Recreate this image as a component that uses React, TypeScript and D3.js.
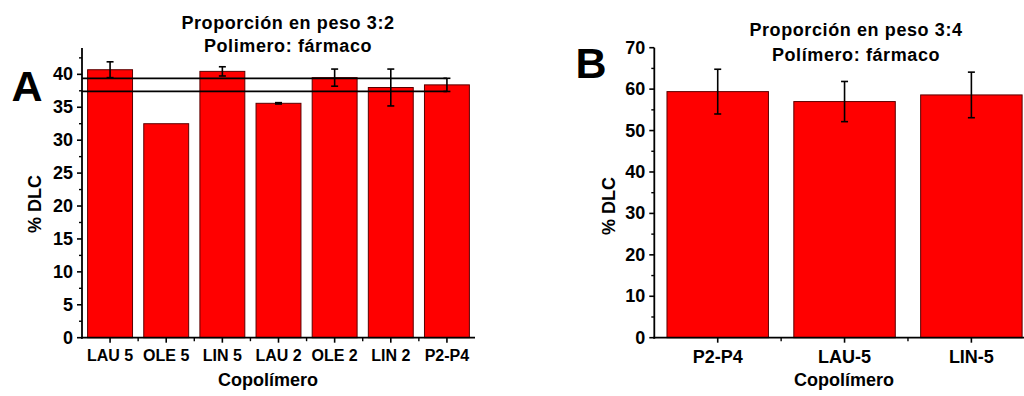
import * as d3 from "d3";

const catsA = ["LAU 5", "OLE 5", "LIN 5", "LAU 2", "OLE 2", "LIN 2", "P2-P4"];
const dlcA = [40.7, 32.5, 40.45, 35.6, 39.5, 38.0, 38.4];
const errA = [1.2, 0, 0.7, 0.1, 1.3, 2.8, 1.0];

const catsB = ["P2-P4", "LAU-5", "LIN-5"];
const dlcB = [59.4, 57.0, 58.6];
const errB = [5.4, 4.85, 5.5];

const ticksA = [0, 5, 10, 15, 20, 25, 30, 35, 40];
const minorA = [2.5, 7.5, 12.5, 17.5, 22.5, 27.5, 32.5, 37.5, 42.5];
const ticksB = [0, 10, 20, 30, 40, 50, 60, 70];
const minorB = [5, 15, 25, 35, 45, 55, 65];

const FONT = "'Liberation Sans', Arial, Helvetica, sans-serif";
const BAR = "#ff0000";
const EDGE = "#5a0000";

type PanelProps = {
  cats: string[];
  vals: number[];
  errs: number[];
  ticks: number[];
  minor: number[];
  yMax: number;
  x0: number;
  x1: number;
  yTop: number;
  yBottom: number;
  title: string[];
  titleX: number;
  titleY: number[];
  letter: string;
  letterX: number;
  letterY: number;
  catSize: number;
  catY: number;
  ylabX: number;
  ylabY: number;
  xlabX: number;
  refLines?: boolean;
};

function Panel(p: PanelProps) {
  const x = d3.scaleBand<string>().domain(p.cats).range([p.x0, p.x1]).paddingInner(0.2).paddingOuter(0.1);
  const y = d3.scaleLinear().domain([0, p.yMax]).range([p.yBottom, p.yTop]);
  const bw = x.bandwidth();
  const step = x.step();
  const last = p.cats.length - 1;
  // reference lines at the last bar's mean ± error
  const refVals = p.refLines ? [p.vals[last] + p.errs[last], p.vals[last] - p.errs[last]] : [];
  const refEnd = (x(p.cats[last]) ?? 0) + bw / 2;

  return (
    <g fontFamily={FONT} fontWeight="bold" fill="#000">
      {p.vals.map((v, i) => (
        <rect
          key={p.cats[i]}
          x={x(p.cats[i])}
          y={y(v)}
          width={bw}
          height={y(0) - y(v)}
          fill={BAR}
          stroke={EDGE}
          strokeWidth={1}
        />
      ))}
      {refVals.map((v, i) => (
        <line key={"r" + i} x1={p.x0} x2={refEnd} y1={y(v)} y2={y(v)} stroke="#000" strokeWidth={1.7} />
      ))}
      {p.vals.map((v, i) => {
        const e = p.errs[i];
        if (e <= 0) return null;
        const cx = (x(p.cats[i]) ?? 0) + bw / 2;
        return (
          <g key={"e" + i} stroke="#000" strokeWidth={1.6}>
            <line x1={cx} x2={cx} y1={y(v + e)} y2={y(v - e)} />
            <line x1={cx - 3.5} x2={cx + 3.5} y1={y(v + e)} y2={y(v + e)} />
            <line x1={cx - 3.5} x2={cx + 3.5} y1={y(v - e)} y2={y(v - e)} />
          </g>
        );
      })}
      {/* axes */}
      <line x1={p.x0} x2={p.x0} y1={p.yTop} y2={p.yBottom + 1} stroke="#000" strokeWidth={1.8} />
      <line x1={p.x0 - 1} x2={p.x1} y1={p.yBottom} y2={p.yBottom} stroke="#000" strokeWidth={1.8} />
      {p.ticks.map(t => (
        <g key={"t" + t}>
          <line x1={p.x0 - 5} x2={p.x0} y1={y(t)} y2={y(t)} stroke="#000" strokeWidth={1.6} />
          <text x={p.x0 - 9} y={y(t)} textAnchor="end" dominantBaseline="central" fontSize={18}>
            {t}
          </text>
        </g>
      ))}
      {p.minor.map(t => (
        <line key={"m" + t} x1={p.x0 - 3} x2={p.x0} y1={y(t)} y2={y(t)} stroke="#000" strokeWidth={1.4} />
      ))}
      {p.cats.map((c, i) => {
        const cx = (x(c) ?? 0) + bw / 2;
        return (
          <g key={"c" + c}>
            <line x1={cx} x2={cx} y1={p.yBottom} y2={p.yBottom + 5} stroke="#000" strokeWidth={1.6} />
            {i < last && (
              <line
                x1={cx + step / 2}
                x2={cx + step / 2}
                y1={p.yBottom}
                y2={p.yBottom + 3.5}
                stroke="#000"
                strokeWidth={1.4}
              />
            )}
            <text x={cx} y={p.catY} textAnchor="middle" fontSize={p.catSize}>
              {c}
            </text>
          </g>
        );
      })}
      {p.title.map((t, i) => (
        <text key={"h" + i} x={p.titleX} y={p.titleY[i]} textAnchor="middle" fontSize={18} letterSpacing={0.6}>
          {t}
        </text>
      ))}
      <text x={p.letterX} y={p.letterY} textAnchor="middle" fontSize={43}>
        {p.letter}
      </text>
      <text transform={`translate(${p.ylabX},${p.ylabY}) rotate(-90)`} textAnchor="middle" fontSize={18}>
        % DLC
      </text>
      <text x={p.xlabX} y={386} textAnchor="middle" fontSize={18}>
        Copolímero
      </text>
    </g>
  );
}

export default function App() {
  return (
    <svg
      width={1024}
      height={396}
      viewBox="0 0 1024 396"
      style={{ position: "absolute", left: 0, top: 0, background: "#fff", display: "block" }}
    >
      <rect width={1024} height={396} fill="#fff" />
      <Panel
        cats={catsA}
        vals={dlcA}
        errs={errA}
        ticks={ticksA}
        minor={minorA}
        yMax={44}
        x0={82}
        x1={475}
        yTop={48}
        yBottom={337.7}
        title={["Proporción en peso 3:2", "Polimero: fármaco"]}
        titleX={288}
        titleY={[28.5, 52]}
        letter="A"
        letterX={27}
        letterY={101}
        catSize={16}
        catY={361}
        ylabX={41}
        ylabY={204}
        xlabX={268}
        refLines
      />
      <Panel
        cats={catsB}
        vals={dlcB}
        errs={errB}
        ticks={ticksB}
        minor={minorB}
        yMax={70}
        x0={654.3}
        x1={1034.8}
        yTop={47.7}
        yBottom={337.7}
        title={["Proporción en peso 3:4", "Polímero: fármaco"]}
        titleX={856}
        titleY={[36, 60.5]}
        letter="B"
        letterX={591}
        letterY={77.5}
        catSize={18}
        catY={363}
        ylabX={615}
        ylabY={206}
        xlabX={844}
      />
    </svg>
  );
}
